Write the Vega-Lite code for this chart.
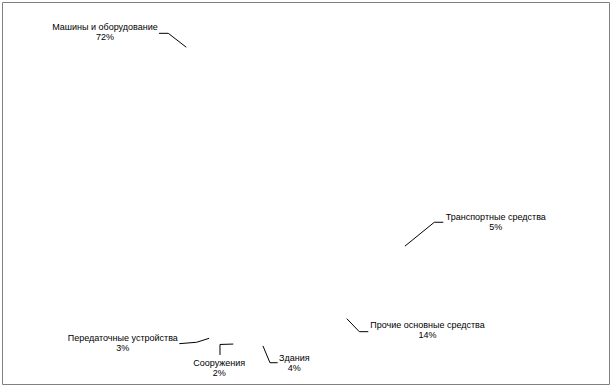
{
  "$schema": "https://vega.github.io/schema/vega-lite/v6.json",
  "width": 607,
  "height": 382,
  "autosize": {"type": "none"},
  "padding": {"left": 2, "top": 2, "right": 4, "bottom": 2},
  "background": "white",
  "config": {
    "view": {"stroke": "#808080", "strokeWidth": 1},
    "text": {"font": "Liberation Sans"}
  },
  "data": {
    "values": [
      {"category": "Здания", "share": 4},
      {"category": "Сооружения", "share": 2},
      {"category": "Передаточные устройства", "share": 3},
      {"category": "Машины и оборудование", "share": 72},
      {"category": "Транспортные средства", "share": 5},
      {"category": "Прочие основные средства", "share": 14}
    ]
  },
  "transform": [
    {"window": [{"op": "sum", "field": "share", "as": "cum"}], "frame": [null, 0]},
    {"joinaggregate": [{"op": "sum", "field": "share", "as": "total"}]},
    {"calculate": "171 * PI / 180 + 2 * PI * (datum.cum - datum.share / 2) / datum.total", "as": "mid"},
    {"calculate": "sin(datum.mid)", "as": "ex"},
    {"calculate": "cos(datum.mid)", "as": "ey"},
    {"calculate": "{'Здания': [7.0, 16.8, 14.7, 16.8, 31.3, 15.1], 'Сооружения': [-13.3, 0.4, -13.3, 10.9, -14.1, 21.6], 'Передаточные устройства': [-12.5, 4.0, -29.9, 5.4, -86.4, 2.4], 'Машины и оборудование': [-18.0, -13.9, -27.3, -13.9, -81.3, -17.2], 'Транспортные средства': [29.4, -23.9, 38.4, -23.9, 90.9, -26.2], 'Прочие основные средства': [12.5, 13.0, 21.5, 13.0, 80.7, 9.6]}[datum.category]", "as": "o"},
    {"calculate": "datum.ex + datum.o[0] / 158", "as": "bx"},
    {"calculate": "datum.ey - datum.o[1] / 158", "as": "by"},
    {"calculate": "datum.ex + datum.o[2] / 158", "as": "tx"},
    {"calculate": "datum.ey - datum.o[3] / 158", "as": "ty"},
    {"calculate": "datum.ex + datum.o[4] / 158", "as": "lx"},
    {"calculate": "datum.ey - datum.o[5] / 158", "as": "ly"},
    {"calculate": "[datum.category, datum.share + '%']", "as": "lab"}
  ],
  "layer": [
    {
      "mark": {"type": "arc", "radius": 158, "fill": "#ffffff", "strokeWidth": 0},
      "encoding": {
        "theta": {"field": "share", "type": "quantitative", "stack": true, "scale": {"range": [2.98451, 9.26770]}},
        "x": {"datum": 0, "type": "quantitative", "scale": {"domain": [-1.62025, 2.22152], "nice": false, "zero": false}, "axis": null},
        "y": {"datum": 0, "type": "quantitative", "scale": {"domain": [-1.24051, 1.17722], "nice": false, "zero": false}, "axis": null}
      }
    },
    {
      "mark": {"type": "rule", "color": "#000000", "strokeWidth": 1},
      "encoding": {
        "x": {"field": "ex", "type": "quantitative", "scale": {"domain": [-1.62025, 2.22152], "nice": false, "zero": false}, "axis": null},
        "y": {"field": "ey", "type": "quantitative", "scale": {"domain": [-1.24051, 1.17722], "nice": false, "zero": false}, "axis": null},
        "x2": {"field": "bx"},
        "y2": {"field": "by"}
      }
    },
    {
      "mark": {"type": "rule", "color": "#000000", "strokeWidth": 1},
      "encoding": {
        "x": {"field": "bx", "type": "quantitative"},
        "y": {"field": "by", "type": "quantitative"},
        "x2": {"field": "tx"},
        "y2": {"field": "ty"}
      }
    },
    {
      "mark": {"type": "text", "align": "center", "baseline": "alphabetic", "fontSize": 9, "lineHeight": 10, "color": "#000000"},
      "encoding": {
        "x": {"field": "lx", "type": "quantitative"},
        "y": {"field": "ly", "type": "quantitative"},
        "text": {"field": "lab", "type": "nominal"}
      }
    }
  ]
}
